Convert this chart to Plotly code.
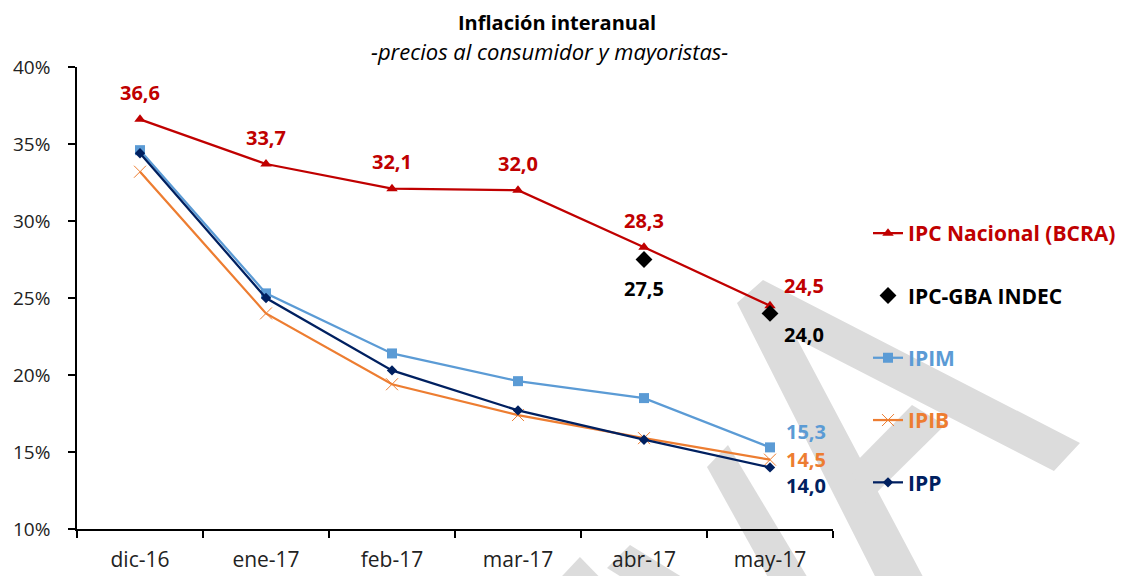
import plotly.graph_objects as go

# ---------------- data ----------------
categories = ["dic-16", "ene-17", "feb-17", "mar-17", "abr-17", "may-17"]
ipc_nacional = [36.6, 33.7, 32.1, 32.0, 28.3, 24.5]
ipc_gba = [None, None, None, None, 27.5, 24.0]
ipim = [34.6, 25.3, 21.4, 19.6, 18.5, 15.3]
ipib = [33.2, 24.0, 19.4, 17.4, 15.9, 14.5]
ipp = [34.4, 25.0, 20.3, 17.7, 15.8, 14.0]
y_ticks = [10, 15, 20, 25, 30, 35, 40]

RED = "#C00000"
BLACK = "#000000"
LBLUE = "#5B9BD5"
ORANGE = "#ED7D31"
NAVY = "#002060"
FONT = "Open Sans"

# page offset (browser body margin) and figure geometry
OFF = 8
W, H = 1125 - OFF, 576 - OFF
ML, MR, MT, MB = 69, 292, 59, 47
PW, PH = W - ML - MR, H - MT - MB


def px(sx):
    return (sx - OFF - ML) / PW


def py(sy):
    return (H - MB - (sy - OFF)) / PH


def fmt(v):
    return f"{v:.1f}".replace(".", ",")


fig = go.Figure()


def leg(name, color):
    return f"<span style='color:{color}'><b>{name}</b></span>"


fig.add_trace(go.Scatter(
    x=categories, y=ipc_nacional, mode="lines+markers", name=leg("IPC Nacional (BCRA)", RED),
    legendgroup="a", line=dict(color=RED, width=2.25),
    marker=dict(symbol="triangle-up", size=10, color=RED)))
fig.add_trace(go.Scatter(
    x=categories, y=ipc_gba, mode="markers", name=leg("IPC-GBA INDEC", BLACK),
    legendgroup="b", marker=dict(symbol="diamond", size=13, color=BLACK)))
fig.add_trace(go.Scatter(
    x=categories, y=ipim, mode="lines+markers", name=leg("IPIM", LBLUE),
    legendgroup="c", line=dict(color=LBLUE, width=2.25),
    marker=dict(symbol="square", size=10, color=LBLUE)))
fig.add_trace(go.Scatter(
    x=categories, y=ipib, mode="lines+markers", name=leg("IPIB", ORANGE),
    legendgroup="d", line=dict(color=ORANGE, width=2.25),
    marker=dict(symbol="x-thin", size=12, color=ORANGE, line=dict(color=ORANGE, width=1))))
fig.add_trace(go.Scatter(
    x=categories, y=ipp, mode="lines+markers", name=leg("IPP", NAVY),
    legendgroup="e", line=dict(color=NAVY, width=2.25),
    marker=dict(symbol="diamond", size=8, color=NAVY)))

annotations = []


def lab(cat, val, color, xs, ys):
    annotations.append(dict(
        x=cat, y=val, xref="x", yref="y", text=f"<b>{fmt(val)}</b>", showarrow=False,
        xshift=xs, yshift=ys, font=dict(family=FONT, size=20, color=color)))


for i, (c, v) in enumerate(zip(categories, ipc_nacional)):
    if i < len(categories) - 1:
        lab(c, v, RED, 0, 27)
    else:
        lab(c, v, RED, 34, 20)
for i, (c, v) in enumerate(zip(categories, ipc_gba)):
    if v is None:
        continue
    if i < len(categories) - 1:
        lab(c, v, BLACK, 0, -29)
    else:
        lab(c, v, BLACK, 34, -21)
lab(categories[-1], ipim[-1], LBLUE, 36, 16)
lab(categories[-1], ipib[-1], ORANGE, 36, 0)
lab(categories[-1], ipp[-1], NAVY, 36, -18)

annotations.append(dict(
    x=px(557), y=py(OFF), xref="paper", yref="paper", xanchor="center", yanchor="top",
    showarrow=False, borderpad=0, text="<b>Inflación interanual</b>",
    font=dict(family=FONT, size=20, color="#000")))
annotations.append(dict(
    x=px(549), y=py(51), xref="paper", yref="paper", xanchor="center", yanchor="middle",
    showarrow=False, borderpad=0, text="<i>-precios al consumidor y mayoristas-</i>",
    font=dict(family=FONT, size=22, color="#000")))

# decorative grey watermark strokes (page decoration, screen-pixel based)
wm_polys = [
    [(737, 303), (763, 280), (1080, 443), (1054, 471), (797, 339), (930, 590), (882, 590)],
    [(850, 468), (912, 405), (945, 425), (866, 503)],
    [(707, 467), (728, 445), (815, 590), (775, 590)],
    [(607, 568), (630, 545), (703, 590), (642, 590)],
    [(549, 590), (580, 557), (612, 590)],
]
shapes = []
for poly in wm_polys:
    path = "M " + " L ".join(f"{px(a):.4f},{py(b):.4f}" for a, b in poly) + " Z"
    shapes.append(dict(type="path", xref="paper", yref="paper", path=path,
                       fillcolor="#DCDCDC", line=dict(width=0), layer="below"))

fig.update_layout(
    width=W, height=H,
    margin=dict(l=ML, r=MR, t=MT, b=MB, autoexpand=False),
    paper_bgcolor="white", plot_bgcolor="rgba(0,0,0,0)",
    font=dict(family=FONT, size=19, color="#222"),
    showlegend=True,
    legend=dict(x=px(868), y=py(213), xanchor="left", yanchor="top",
                font=dict(family=FONT, size=21, color="#000"),
                tracegroupgap=32, bgcolor="rgba(0,0,0,0)", itemwidth=30),
    annotations=annotations,
    shapes=shapes,
)
fig.update_xaxes(
    type="category", range=[-0.5, 5.5], tickson="boundaries", automargin=False,
    ticks="outside", ticklen=7, tickcolor="#000", tickwidth=1.5,
    showline=True, linecolor="#000", linewidth=1.5, showgrid=False, zeroline=False,
    tickfont=dict(family=FONT, size=21, color="#222"), ticklabelstandoff=11,
)
fig.update_yaxes(
    range=[10, 40], tickvals=y_ticks, ticktext=[f"{t}%" for t in y_ticks], automargin=False,
    ticks="outside", ticklen=7, tickcolor="#000", tickwidth=1.5,
    showline=True, linecolor="#000", linewidth=1.5, showgrid=False, zeroline=False,
    tickfont=dict(family=FONT, size=19, color="#222"), ticklabelstandoff=14,
)

fig.write_html("out.html")
